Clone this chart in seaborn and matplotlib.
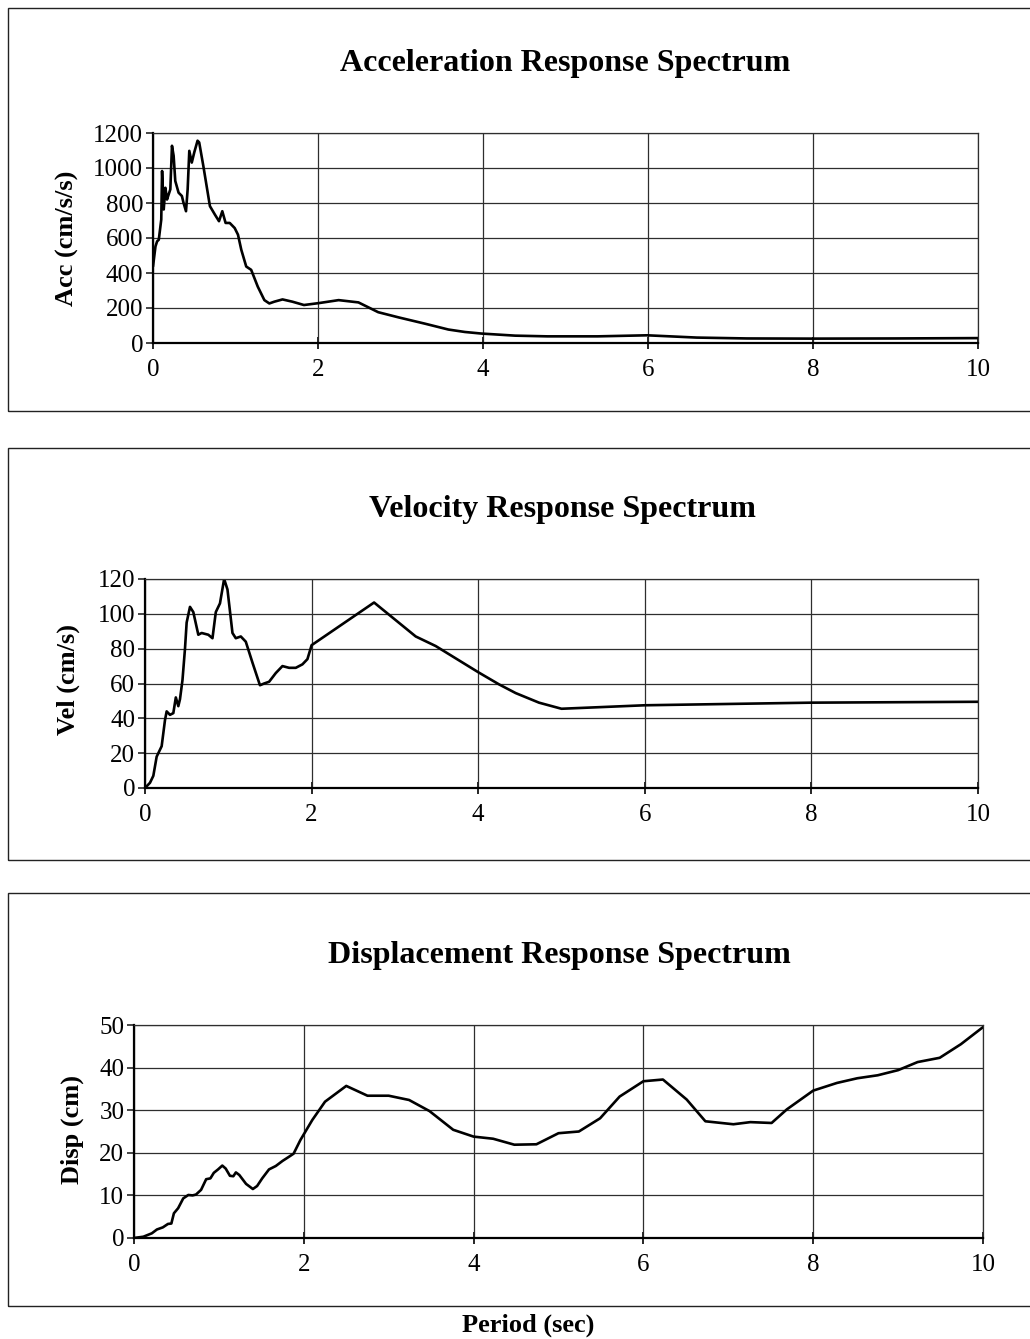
import matplotlib
matplotlib.use("Agg")
import matplotlib.pyplot as plt
import matplotlib.patches as patches
import numpy as np
import pandas as pd
import seaborn as sns

# ---- spectrum data: period (sec) and ordinate ----
acc_period = [0.0, 0.03, 0.05, 0.07, 0.10, 0.11, 0.13, 0.15, 0.17, 0.19, 0.21, 0.23,
              0.25, 0.27, 0.31, 0.35, 0.37, 0.40, 0.42, 0.44, 0.47, 0.50, 0.54, 0.56,
              0.61, 0.65, 0.69, 0.75, 0.80, 0.84, 0.88, 0.93, 0.99, 1.03, 1.07, 1.13,
              1.19, 1.27, 1.35, 1.41, 1.47, 1.57, 1.69, 1.83, 2.01, 2.25, 2.49, 2.73,
              2.98, 3.30, 3.58, 3.78, 3.98, 4.39, 4.78, 5.39, 5.99, 6.59, 7.20, 8.0,
              9.0, 10.0]
acc_values = [437, 552, 581, 590, 705, 983, 763, 887, 820, 849, 878, 1127,
              1070, 926, 859, 840, 801, 753, 878, 1098, 1031, 1089, 1156, 1146,
              1012, 897, 782, 734, 696, 753, 686, 686, 657, 619, 533, 437,
              418, 322, 245, 226, 236, 249, 236, 217, 228, 245, 232, 176,
              146, 110, 77, 63, 54, 42, 38, 38, 44, 31, 26, 25,
              26, 28]

vel_period = [0.0, 0.06, 0.10, 0.14, 0.20, 0.24, 0.26, 0.30, 0.34, 0.37, 0.40, 0.42,
              0.45, 0.48, 0.50, 0.54, 0.58, 0.64, 0.68, 0.76, 0.81, 0.85, 0.90, 0.95,
              0.99, 1.05, 1.09, 1.15, 1.21, 1.29, 1.38, 1.43, 1.49, 1.57, 1.65, 1.73,
              1.81, 1.89, 1.95, 2.0, 2.75, 3.25, 3.49, 4.0, 4.25, 4.45, 4.73, 5.0,
              6.0, 8.0, 10.0]
vel_values = [0, 3, 7, 18, 24, 39, 44, 42, 43, 52, 47, 51,
              62, 80, 95, 104, 101, 88, 89, 88, 86, 101, 106, 120,
              114, 89, 86, 87, 84, 72, 59, 60, 61, 66, 70, 69,
              69, 71, 74, 82, 106.5, 87, 81.5, 66.5, 59.5, 54.5, 49, 45.5,
              47.5, 49, 49.5]

disp_period = [0.0, 0.11, 0.21, 0.27, 0.34, 0.40, 0.44, 0.47, 0.52, 0.58, 0.64, 0.69,
               0.73, 0.79, 0.85, 0.90, 0.94, 0.99, 1.04, 1.08, 1.13, 1.17, 1.20, 1.24,
               1.32, 1.40, 1.45, 1.51, 1.59, 1.67, 1.75, 1.82, 1.88, 1.96, 2.10, 2.25,
               2.50, 2.75, 3.0, 3.24, 3.48, 3.76, 4.0, 4.23, 4.48, 4.74, 5.0, 5.24,
               5.49, 5.72, 6.0, 6.23, 6.51, 6.73, 7.06, 7.26, 7.51, 7.69, 8.0, 8.28,
               8.52, 8.76, 9.0, 9.23, 9.49, 9.74, 10.0]
disp_values = [0.0, 0.3, 1.1, 2.0, 2.5, 3.3, 3.4, 5.8, 7.0, 9.3, 10.1, 10.0,
               10.2, 11.3, 13.8, 14.0, 15.3, 16.1, 17.0, 16.3, 14.6, 14.5, 15.4, 14.8,
               12.7, 11.5, 12.2, 14.0, 16.1, 16.9, 18.1, 19.0, 19.8, 23.0, 27.7, 32.0,
               35.7, 33.4, 33.4, 32.4, 29.8, 25.4, 23.8, 23.3, 21.9, 22.0, 24.6, 25.0,
               28.1, 33.2, 36.8, 37.2, 32.5, 27.4, 26.7, 27.2, 27.0, 30.2, 34.6, 36.4,
               37.5, 38.2, 39.4, 41.3, 42.3, 45.5, 49.5]

titles = ["Acceleration Response Spectrum", "Velocity Response Spectrum",
          "Displacement Response Spectrum"]
ylabels = ["Acc (cm/s/s)", "Vel (cm/s)", "Disp (cm)"]
y_ticks = [list(range(0, 1201, 200)), list(range(0, 121, 20)), list(range(0, 51, 10))]
x_ticks = [0, 2, 4, 6, 8, 10]
x_label = "Period (sec)"

sns.set_style("white")
plt.rcParams["font.family"] = ["Liberation Serif", "DejaVu Serif"]

W, H = 1030, 1339
fig = plt.figure(figsize=(W / 100, H / 100), dpi=100)

# axes rectangles in pixels: left, right, top, bottom
axes_px = [(153, 978, 133, 343), (145, 978, 579, 788), (134, 983, 1025, 1238)]
# surrounding frames: top, bottom
frames_px = [(8, 411), (448, 860), (893, 1306)]
title_px = [(565, 63), (562, 510), (559, 955)]
ylabel_px = [(67, 238), (68, 680), (72, 1130)]

series = [(acc_period, acc_values), (vel_period, vel_values), (disp_period, disp_values)]

for i in range(3):
    top, bot = frames_px[i]
    fig.patches.append(patches.Rectangle((8 / W, 1 - bot / H), 1.2, (bot - top) / H,
                                         transform=fig.transFigure, fill=False,
                                         edgecolor="#222222", linewidth=1.0))
    l, r, t, b = axes_px[i]
    ax = fig.add_axes([l / W, 1 - b / H, (r - l) / W, (b - t) / H])
    df = pd.DataFrame({"period": series[i][0], "value": series[i][1]})
    sns.lineplot(data=df, x="period", y="value", ax=ax, color="black",
                 linewidth=1.9, sort=False, estimator=None)
    ax.set_xlim(0, 10)
    ax.set_ylim(0, y_ticks[i][-1])
    ax.set_xticks(x_ticks)
    ax.set_yticks(y_ticks[i])
    ax.set_xlabel("")
    ax.set_ylabel("")
    ax.grid(True, color="#2e2e2e", linewidth=0.9)
    for side in ["top", "right"]:
        ax.spines[side].set_visible(True)
        ax.spines[side].set_linewidth(0.9)
        ax.spines[side].set_color("#2e2e2e")
    for side in ["left", "bottom"]:
        ax.spines[side].set_linewidth(1.6)
        ax.spines[side].set_color("black")
    ax.tick_params(axis="x", direction="inout", length=9, width=1.4, pad=7,
                   labelsize=18, bottom=True, labelcolor="black")
    ax.tick_params(axis="y", direction="out", length=5, width=1.2, pad=2,
                   labelsize=18, left=True, labelcolor="black")
    fig.text(title_px[i][0] / W, 1 - title_px[i][1] / H, titles[i], color="black",
             ha="center", va="center", fontsize=23, fontweight="bold")
    fig.text(ylabel_px[i][0] / W, 1 - ylabel_px[i][1] / H, ylabels[i], color="black",
             ha="center", va="center", rotation=90, fontsize=19, fontweight="bold")

fig.text(528 / W, 1 - 1325 / H, x_label, ha="center", va="center", color="black",
         fontsize=19, fontweight="bold")

fig.savefig("out.png", dpi=100, facecolor="white")
